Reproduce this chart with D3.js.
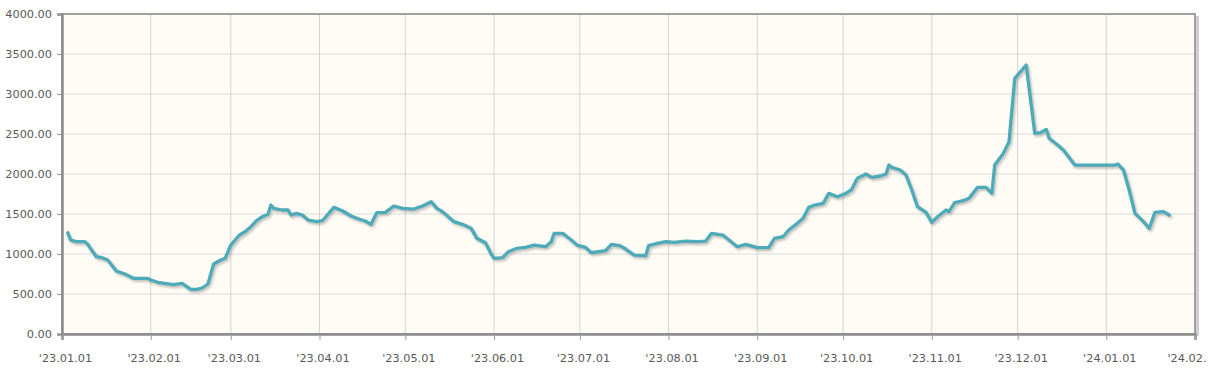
<!DOCTYPE html>
<html>
<head>
<meta charset="utf-8">
<script src="https://cdn.jsdelivr.net/npm/d3@7"></script>
<style>
  body { margin: 0; background: #fff; }
  svg { display: block; }
  .tick-label { font-family: "DejaVu Sans", sans-serif; font-size: 11.3px; fill: #585858; }
</style>
</head>
<body>
<div id="chart"></div>
<script>
// price series
const dates = [
  "2023-01-03","2023-01-04","2023-01-06","2023-01-09","2023-01-10","2023-01-13","2023-01-15","2023-01-17","2023-01-20","2023-01-23",
  "2023-01-26","2023-01-31","2023-02-01","2023-02-04","2023-02-09","2023-02-12","2023-02-15","2023-02-17","2023-02-19","2023-02-21",
  "2023-02-23","2023-02-25","2023-02-27","2023-03-01","2023-03-04","2023-03-06","2023-03-08","2023-03-10","2023-03-12","2023-03-14",
  "2023-03-15","2023-03-16","2023-03-19","2023-03-21","2023-03-22","2023-03-24","2023-03-26","2023-03-28","2023-03-31","2023-04-02",
  "2023-04-06","2023-04-09","2023-04-12","2023-04-15","2023-04-17","2023-04-19","2023-04-21","2023-04-24","2023-04-27","2023-04-30",
  "2023-05-04","2023-05-07","2023-05-10","2023-05-12","2023-05-14","2023-05-18","2023-05-21","2023-05-24","2023-05-26","2023-05-29",
  "2023-05-31","2023-06-01","2023-06-04","2023-06-06","2023-06-09","2023-06-12","2023-06-15","2023-06-19","2023-06-21","2023-06-22",
  "2023-06-25","2023-06-28","2023-06-30","2023-07-03","2023-07-05","2023-07-10","2023-07-12","2023-07-15","2023-07-17","2023-07-20",
  "2023-07-24","2023-07-25","2023-07-28","2023-07-31","2023-08-03","2023-08-07","2023-08-11","2023-08-14","2023-08-16","2023-08-20",
  "2023-08-25","2023-08-28","2023-09-01","2023-09-05","2023-09-07","2023-09-10","2023-09-12","2023-09-15","2023-09-17","2023-09-19",
  "2023-09-21","2023-09-24","2023-09-26","2023-09-29","2023-10-02","2023-10-04","2023-10-06","2023-10-09","2023-10-11","2023-10-14",
  "2023-10-16","2023-10-17","2023-10-18","2023-10-21","2023-10-23","2023-10-25","2023-10-27","2023-10-30","2023-11-01","2023-11-03",
  "2023-11-06","2023-11-07","2023-11-09","2023-11-12","2023-11-14","2023-11-17","2023-11-20","2023-11-22","2023-11-23","2023-11-26",
  "2023-11-28","2023-11-30","2023-12-04","2023-12-07","2023-12-09","2023-12-11","2023-12-12","2023-12-15","2023-12-17","2023-12-21",
  "2024-01-04","2024-01-05","2024-01-07","2024-01-09","2024-01-11","2024-01-14","2024-01-16","2024-01-18","2024-01-21","2024-01-23"
];
const values = [
  1265,1175,1154,1154,1121,966,954,925,788,750,
  696,696,675,641,616,633,558,558,575,625,
  875,916,946,1113,1237,1279,1341,1416,1466,1496,
  1612,1571,1550,1550,1487,1508,1487,1425,1404,1416,
  1583,1541,1475,1434,1412,1371,1516,1521,1600,1571,
  1562,1600,1654,1571,1529,1404,1371,1321,1196,1141,
  1000,946,954,1029,1071,1083,1112,1091,1154,1258,
  1258,1175,1112,1083,1016,1041,1121,1104,1062,987,
  979,1104,1133,1154,1146,1162,1154,1162,1258,1237,
  1091,1121,1079,1079,1196,1216,1300,1383,1446,1583,
  1612,1633,1758,1716,1758,1808,1946,2000,1958,1975,
  2000,2112,2083,2050,1987,1800,1591,1521,1396,1466,
  1550,1529,1641,1666,1696,1833,1833,1758,2112,2258,
  2404,3196,3362,2508,2517,2558,2446,2362,2300,2112,
  2112,2125,2050,1800,1508,1404,1321,1521,1529,1487
];
const yTicks = [0, 500, 1000, 1500, 2000, 2500, 3000, 3500, 4000];
const xTicks = ["2023-01-01","2023-02-01","2023-03-01","2023-04-01","2023-05-01","2023-06-01","2023-07-01",
                "2023-08-01","2023-09-01","2023-10-01","2023-11-01","2023-12-01","2024-01-01","2024-02-01"];
const xTickLabels = ["'23.01.01","'23.02.01","'23.03.01","'23.04.01","'23.05.01","'23.06.01","'23.07.01",
                     "'23.08.01","'23.09.01","'23.10.01","'23.11.01","'23.12.01","'24.01.01","'24.02."];

const W = 1211, H = 378;
const margin = { top: 14, right: 16, bottom: 44, left: 62 };
const width = W - margin.left - margin.right;
const height = H - margin.top - margin.bottom;

const parse = d3.timeParse("%Y-%m-%d");
const data = dates.map((d, i) => ({ date: parse(d), value: values[i] }));
const tickDates = xTicks.map(parse);

const svg = d3.select("#chart").append("svg")
    .attr("width", W)
    .attr("height", H);

const defs = svg.append("defs");
const shadow = defs.append("filter").attr("id", "line-shadow")
    .attr("x", "-5%").attr("y", "-5%").attr("width", "110%").attr("height", "120%");
shadow.append("feDropShadow")
    .attr("dx", 1.5).attr("dy", 2).attr("stdDeviation", 1)
    .attr("flood-color", "#777").attr("flood-opacity", 0.45);

const g = svg.append("g").attr("transform", `translate(${margin.left},${margin.top})`);

const x = d3.scaleTime().domain([tickDates[0], tickDates[tickDates.length - 1]]).range([0, width]);
const y = d3.scaleLinear().domain([0, 4000]).range([height, 0]);

// plot background
g.append("rect")
    .attr("width", width)
    .attr("height", height)
    .attr("fill", "#fefcf4");

// grid
g.append("g").selectAll("line").data(yTicks).join("line")
    .attr("x1", 0).attr("x2", width)
    .attr("y1", d => y(d)).attr("y2", d => y(d))
    .attr("stroke", "#dcdcdc").attr("stroke-width", 1);
g.append("g").selectAll("line").data(tickDates).join("line")
    .attr("x1", d => x(d)).attr("x2", d => x(d))
    .attr("y1", 0).attr("y2", height)
    .attr("stroke", "#d4d4d4").attr("stroke-width", 1);

// frame: right side has a soft shadow
g.append("rect")
    .attr("x", width + 1).attr("y", 2)
    .attr("width", 3).attr("height", height)
    .attr("fill", "#cfcfcf");
g.append("rect")
    .attr("width", width).attr("height", height)
    .attr("fill", "none")
    .attr("stroke", "#a0a0a0").attr("stroke-width", 2);

// axes
const yAxis = d3.axisLeft(y).tickValues(yTicks).tickSize(5).tickPadding(5)
    .tickFormat(d3.format(".2f"));
const xAxis = d3.axisBottom(x).tickValues(tickDates).tickSize(6).tickPadding(14)
    .tickFormat((d, i) => xTickLabels[i]);

const ya = g.append("g").call(yAxis);
const xa = g.append("g").attr("transform", `translate(0,${height})`).call(xAxis);
[ya, xa].forEach(a => {
    a.select(".domain").attr("stroke", "#8c8c8c").attr("stroke-width", 2.5);
    a.selectAll(".tick line").attr("stroke", "#999");
    a.selectAll(".tick text").attr("class", "tick-label").attr("fill", null);
});
xa.selectAll(".tick text").attr("dx", 3);
// last label is pulled in so it stays inside the picture
xa.selectAll(".tick text").filter((d, i) => i === xTicks.length - 1)
    .attr("text-anchor", "end").attr("dx", 11);

// line
const line = d3.line()
    .x(d => x(d.date))
    .y(d => y(d.value));

g.append("path")
    .datum(data)
    .attr("fill", "none")
    .attr("stroke", "#4eaab8")
    .attr("stroke-width", 3.3)
    .attr("stroke-linejoin", "round")
    .attr("stroke-linecap", "round")
    .attr("filter", "url(#line-shadow)")
    .attr("d", line);
</script>
</body>
</html>
